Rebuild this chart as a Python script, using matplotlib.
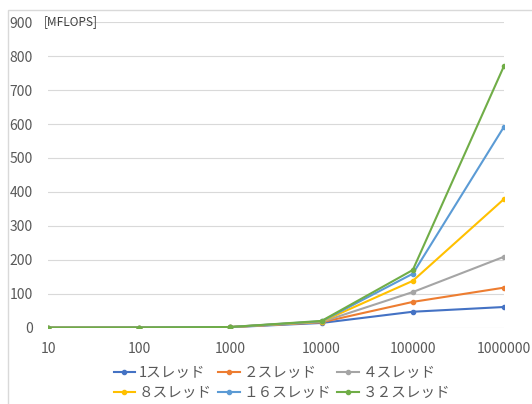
import matplotlib.pyplot as plt
from matplotlib.lines import Line2D

plt.rcParams['font.family'] = ['Noto Sans CJK JP', 'DejaVu Sans']

sizes = ['10', '100', '1000', '10000', '100000', '1000000']
labels = ['1スレッド', '２スレッド', '４スレッド', '８スレッド', '１６スレッド', '３２スレッド']
colors = ['#4472C4', '#ED7D31', '#A5A5A5', '#FFC000', '#5B9BD5', '#70AD47']

mflops_1 = [0.1, 0.5, 1.5, 14, 47, 61]
mflops_2 = [0.1, 0.5, 1.8, 16, 76, 118]
mflops_4 = [0.1, 0.5, 2.0, 17, 105, 209]
mflops_8 = [0.1, 0.5, 2.0, 18, 138, 379]
mflops_16 = [0.1, 0.5, 2.0, 19, 159, 592]
mflops_32 = [0.1, 0.5, 2.0, 20, 170, 771]
series = [mflops_1, mflops_2, mflops_4, mflops_8, mflops_16, mflops_32]

fig = plt.figure(figsize=(5.32, 4.04), dpi=100)
ax = fig.add_axes([48 / 532, 1 - 327.7 / 404, 456 / 532, 305.5 / 404])

x = list(range(len(sizes)))
for vals, c, lab in zip(series, colors, labels):
    ax.plot(x, vals, color=c, lw=1.5, marker='o', ms=3, label=lab, zorder=3)

ax.set_xlim(0, 5)
ax.set_ylim(0, 900)
ax.set_yticks(range(0, 901, 100))
ax.set_xticks(x)
ax.set_xticklabels(sizes)
ax.grid(axis='y', color='#D9D9D9', lw=0.8)
for s in ax.spines.values():
    s.set_visible(False)
ax.tick_params(length=0, labelsize=10, labelcolor='#595959')
ax.tick_params(axis='y', pad=11)
ax.tick_params(axis='x', pad=10)

ax.text(44 / 532, 1 - 22 / 404, '[MFLOPS]', transform=fig.transFigure,
        fontsize=8.5, va='center', ha='left', color='#404040')

# legend fills column by column, so reorder to get 1,2,4 / 8,16,32 rows
order = [0, 3, 1, 4, 2, 5]
handles = [Line2D([], [], color=colors[i], lw=1.5, marker='o', ms=3) for i in order]
fig.legend(handles, [labels[i] for i in order], ncol=3, frameon=False,
           loc='upper center', bbox_to_anchor=(0.53, 1 - 356 / 404),
           fontsize=10.5, handlelength=1.5, handletextpad=0.25, columnspacing=0.4,
           labelspacing=0.4, labelcolor='#595959', borderpad=0.2)

# chart border
fig.add_artist(plt.Rectangle((8 / 532, -0.01), 1.0, 1 - 10 / 404 + 0.01,
                             transform=fig.transFigure, fill=False,
                             edgecolor='#D9D9D9', lw=1))

fig.savefig('out.png', dpi=100)
